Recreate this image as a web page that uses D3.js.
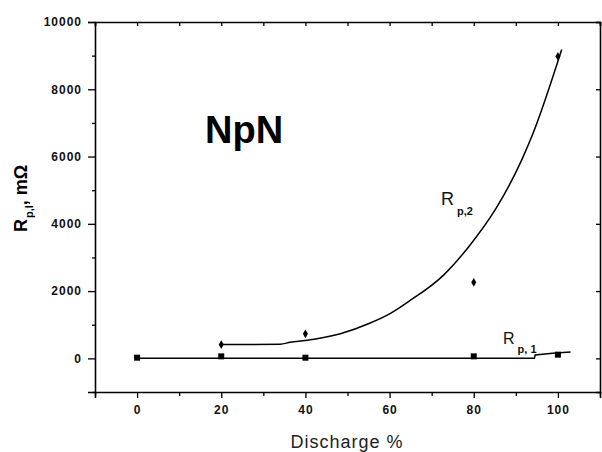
<!DOCTYPE html>
<html>
<head>
<meta charset="utf-8">
<script src="https://cdn.jsdelivr.net/npm/d3@7"></script>
<style>
  body { margin: 0; background: #fff; }
  .tick text { font-family: Arial, "Liberation Sans", sans-serif; font-weight: bold; font-size: 12px; letter-spacing: 1px; fill: #111; }
  .axis path, .axis line { stroke: #000; }
</style>
</head>
<body>
<svg id="chart"></svg>
<script>
// ---- data ----
const xMajorTicks = [0, 20, 40, 60, 80, 100];
const xMinorTicks = [-10, 10, 30, 50, 70, 90, 110];
const yMajorTicks = [0, 2000, 4000, 6000, 8000, 10000];
const yMinorTicks = [-1000, 1000, 3000, 5000, 7000, 9000];

// R p,1 measured points (squares)
const rp1X = [0, 20, 40, 80, 100];
const rp1Y = [20, 60, 20, 60, 110];
// R p,1 fitted line, as drawn
const rp1FitX = [0, 94.4, 94.6, 98.7, 103];
const rp1FitY = [0, 0, 100, 150, 190];

// R p,2 measured points
const rp2X = [20, 40, 80, 100];
const rp2Y = [410, 730, 2260, 8980];
// R p,2 fitted curve, as drawn
const rp2FitX = [20, 34, 36.4, 40, 48.3, 55.4, 60.1, 64.4, 72.7, 79, 85.4, 91.3, 94, 100.9];
const rp2FitY = [410, 420, 480, 530, 730, 1050, 1330, 1680, 2460, 3350, 4480, 5870, 6660, 9180];

class ResistanceChart {
    constructor(_config) {
        this.config = {
            parentElement: _config.parentElement,
            containerWidth: 602,
            containerHeight: 452,
            margin: { top: 22, right: 2, bottom: 60, left: 95 }
        };
        this.initVis();
    }

    initVis() {
        let vis = this;
        vis.width = vis.config.containerWidth - vis.config.margin.left - vis.config.margin.right;
        vis.height = vis.config.containerHeight - vis.config.margin.top - vis.config.margin.bottom;

        vis.svg = d3.select(vis.config.parentElement)
            .attr('width', vis.config.containerWidth)
            .attr('height', vis.config.containerHeight);

        vis.chart = vis.svg.append('g')
            .attr('transform', `translate(${vis.config.margin.left},${vis.config.margin.top})`);

        vis.xScale = d3.scaleLinear().domain([-10, 110]).range([0, vis.width]);
        vis.yScale = d3.scaleLinear().domain([-1000, 10000]).range([vis.height, 0]);

        vis.renderVis();
    }

    renderVis() {
        let vis = this;
        const fmt = d3.format('d');

        // bottom axis, majors with labels
        vis.chart.append('g')
            .attr('class', 'axis')
            .attr('transform', `translate(0,${vis.height})`)
            .call(d3.axisBottom(vis.xScale).tickValues(xMajorTicks).tickSize(6).tickPadding(7).tickFormat(fmt))
            .call(g => g.select('.domain').attr('stroke-width', 1.6))
            .call(g => g.selectAll('.tick line').attr('stroke-width', 1.3));
        vis.chart.append('g')
            .attr('class', 'axis')
            .attr('transform', `translate(0,${vis.height})`)
            .call(d3.axisBottom(vis.xScale).tickValues(xMinorTicks).tickSize(4).tickFormat(''))
            .call(g => g.select('.domain').remove())
            .call(g => g.selectAll('.tick line').attr('stroke-width', 1.3));

        // left axis
        vis.chart.append('g')
            .attr('class', 'axis')
            .call(d3.axisLeft(vis.yScale).tickValues(yMajorTicks).tickSize(7).tickPadding(6).tickFormat(fmt))
            .call(g => g.select('.domain').attr('stroke-width', 1.6))
            .call(g => g.selectAll('.tick line').attr('stroke-width', 1.3));
        vis.chart.append('g')
            .attr('class', 'axis')
            .call(d3.axisLeft(vis.yScale).tickValues(yMinorTicks).tickSize(3).tickFormat(''))
            .call(g => g.select('.domain').remove())
            .call(g => g.selectAll('.tick line').attr('stroke-width', 1.3));

        // top axis, ticks inward
        vis.chart.append('g')
            .attr('class', 'axis')
            .call(d3.axisTop(vis.xScale).tickValues(xMajorTicks.concat(xMinorTicks)).tickSize(-4).tickFormat(''))
            .call(g => g.select('.domain').attr('stroke-width', 1.6))
            .call(g => g.selectAll('.tick line').attr('stroke-width', 1.3));

        // right axis, ticks inward
        vis.chart.append('g')
            .attr('class', 'axis')
            .attr('transform', `translate(${vis.width},0)`)
            .call(d3.axisRight(vis.yScale).tickValues(yMajorTicks).tickSize(-4).tickFormat(''))
            .call(g => g.select('.domain').attr('stroke-width', 1.6))
            .call(g => g.selectAll('.tick line').attr('stroke-width', 1.3));

        const line = d3.line()
            .x(d => vis.xScale(d[0]))
            .y(d => vis.yScale(d[1]));

        // R p,1 fit
        vis.chart.append('path')
            .datum(rp1FitX.map((x, i) => [x, rp1FitY[i]]))
            .attr('fill', 'none')
            .attr('stroke', '#000')
            .attr('stroke-width', 1.5)
            .attr('d', line);

        // R p,2 fit
        vis.chart.append('path')
            .datum(rp2FitX.map((x, i) => [x, rp2FitY[i]]))
            .attr('fill', 'none')
            .attr('stroke', '#000')
            .attr('stroke-width', 1.5)
            .attr('d', line.curve(d3.curveMonotoneX));

        // R p,1 markers
        vis.chart.selectAll('.rp1')
            .data(rp1X.map((x, i) => [x, rp1Y[i]]))
            .join('rect')
            .attr('class', 'rp1')
            .attr('x', d => vis.xScale(d[0]) - 3)
            .attr('y', d => vis.yScale(d[1]) - 3)
            .attr('width', 6)
            .attr('height', 6)
            .attr('fill', '#000');

        // R p,2 markers
        vis.chart.selectAll('.rp2')
            .data(rp2X.map((x, i) => [x, rp2Y[i]]))
            .join('path')
            .attr('class', 'rp2')
            .attr('transform', d => `translate(${vis.xScale(d[0])},${vis.yScale(d[1])})`)
            .attr('d', d3.symbol(d3.symbolDiamond, 22))
            .attr('fill', '#000');

        // series labels
        const lab2 = vis.svg.append('text')
            .attr('x', 441)
            .attr('y', 205)
            .attr('font-family', 'Arial, "Liberation Sans", sans-serif')
            .attr('font-size', 18)
            .attr('fill', '#111');
        lab2.append('tspan').text('R');
        lab2.append('tspan').attr('dx', 3).attr('dy', 10).attr('font-size', 11).attr('font-weight', 'bold').text('p,2');

        const lab1 = vis.svg.append('text')
            .attr('x', 503)
            .attr('y', 344)
            .attr('font-family', 'Arial, "Liberation Sans", sans-serif')
            .attr('font-size', 16)
            .attr('fill', '#111');
        lab1.append('tspan').text('R');
        lab1.append('tspan').attr('dx', 3).attr('dy', 9).attr('font-size', 11).attr('font-weight', 'bold').text('p, 1');

        // big NpN label
        vis.svg.append('text')
            .attr('x', 205)
            .attr('y', 143)
            .attr('font-family', 'Arial, "Liberation Sans", sans-serif')
            .attr('font-weight', 'bold')
            .attr('font-size', 38)
            .attr('fill', '#000')
            .text('NpN');

        // x axis title
        vis.svg.append('text')
            .attr('x', 347)
            .attr('y', 448)
            .attr('text-anchor', 'middle')
            .attr('font-family', 'Arial, "Liberation Sans", sans-serif')
            .attr('font-size', 18)
            .attr('letter-spacing', 1)
            .attr('fill', '#222')
            .text('Discharge %');

        // y axis title
        const yt = vis.svg.append('text')
            .attr('transform', 'translate(27,232) rotate(-90)')
            .attr('font-family', 'Arial, "Liberation Sans", sans-serif')
            .attr('font-weight', 'bold')
            .attr('font-size', 18)
            .attr('fill', '#000');
        yt.append('tspan').text('R');
        yt.append('tspan').attr('dx', 1).attr('dy', 6).attr('font-size', 11).text('p,I');
        yt.append('tspan').attr('dy', -6).text(', mΩ');
    }
}

new ResistanceChart({ parentElement: '#chart' });
</script>
</body>
</html>
